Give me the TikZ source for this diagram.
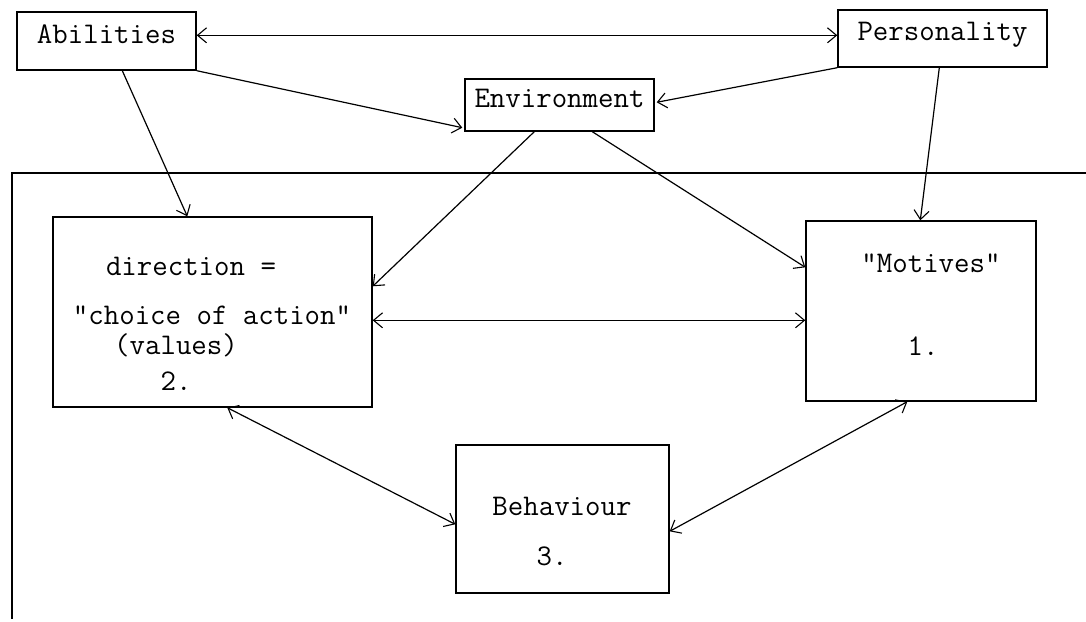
\documentclass[tikz,border=0pt]{standalone}
\usepackage{fontspec}
\usetikzlibrary{arrows.meta,calc}

\tikzset{
  box/.style={draw, line width=1.4pt, inner sep=0pt, minimum width=#1},
  label/.style={inner sep=0pt, font=\ttfamily\fontsize{30}{36}\selectfont,
                text height=0.62em, text depth=0.18em},
  link/.style={line width=1.2pt},
  tip/.tip={Straight Barb[length=9pt,width=15pt,line width=1.1pt]},
}

\begin{document}
\begin{tikzpicture}[x=1pt,y=-1pt]
  \useasboundingbox (0,0) rectangle (1086,621);

  % upper row
  \node[box=179pt, minimum height=58pt, label] (abil) at (106.5,41) {Abilities};
  \node[box=209pt, minimum height=57pt, label] (pers) at (942.5,38.5) {Personality};
  \node[box=189pt, minimum height=52pt, label] (env)  at (559.5,105) {Environment};

  % open frame around the lower part
  \coordinate (ftr) at (1086,173);
  \coordinate (ftl) at (12,173);
  \coordinate (fbl) at (12,619);
  \draw[line width=1.3pt] (ftr) -- (ftl) -- (fbl);

  % lower boxes
  \node[box=319pt, minimum height=190pt] (choice) at (212.5,312) {};
  \node[box=230pt, minimum height=180pt] (mot)    at (921,311) {};
  \node[box=213pt, minimum height=148pt] (beh)    at (562.5,519) {};

  % texts of the lower boxes
  \node[label] (dirtxt) at (191,273) {direction =};
  \node[label] (choicetxt) at (212,322) {"choice of action"};
  \node[label] (valtxt) at (176,352) {(values)};
  \node[label] (twotxt) at (176,388) {2.};
  \node[label] (mottxt) at (931,270) {"Motives"};
  \node[label] (onetxt) at (923,353) {1.};
  \node[label] (behtxt) at (562,513) {Behaviour};
  \node[label] (threetxt) at (552,563) {3.};

  % connectors
  \draw[link, tip-tip] ($(abil.north east)+(0,24)$) -- ($(pers.north west)+(0,26)$);
  \draw[link, -tip] (abil.south east) -- ($(env.south west)+(-2,-4)$);
  \draw[link, -tip] (pers.south west) -- ($(env.north east)+(2,24)$);
  \draw[link, -tip] ($(abil.south west)+(106,0)$) -- ($(choice.north west)+(135,0)$);
  \draw[link, -tip] ($(pers.south west)+(102,0)$) -- ($(mot.north west)+(115,0)$);
  \draw[link, -tip] ($(env.south west)+(70,0)$) -- ($(choice.north east)+(0,70)$);
  \draw[link, -tip] ($(env.south west)+(128,0)$) -- ($(mot.north west)+(0,47)$);
  \draw[link, tip-tip] ($(choice.north east)+(0,104)$) -- ($(mot.north west)+(0,100)$);
  \draw[link, tip-tip] ($(choice.south west)+(175,0)$) -- ($(beh.north west)+(0,80)$);
  \draw[link, tip-tip] ($(mot.south west)+(102,0)$) -- ($(beh.north east)+(0,87)$);
\end{tikzpicture}
\end{document}
